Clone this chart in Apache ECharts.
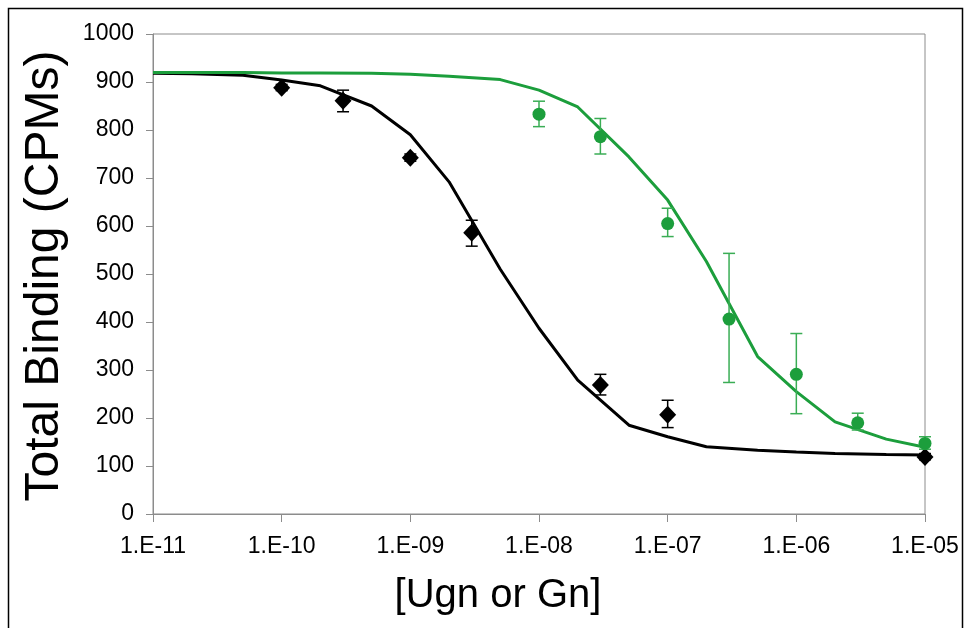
<!DOCTYPE html>
<html>
<head>
<meta charset="utf-8">
<script src="https://cdn.jsdelivr.net/npm/echarts@6/dist/echarts.min.js"></script>
<style>html,body{margin:0;padding:0;background:#fff;}#c{width:966px;height:628px;}</style>
</head>
<body>
<div id="c"></div>
<script>
// ---- data ----
const xTickLabels = ['1.E-11','1.E-10','1.E-09','1.E-08','1.E-07','1.E-06','1.E-05'];
const yTickLabels = ['0','100','200','300','400','500','600','700','800','900','1000'];

const curveConc = [1e-11,2e-11,5e-11,1e-10,2e-10,5e-10,1e-9,2e-9,5e-9,1e-8,2e-8,5e-8,1e-7,2e-7,5e-7,1e-6,2e-6,5e-6,1e-5];
const blackFit  = [918,917,914,904,892,850,790,692,510,387,279,185,161,140,133,129,126,124,123];
const greenFit  = [920,920,920,919,919,918,916,912,905,883,848,744,654,526,328,255,192,156,139];

const blackConc = [1e-10,3e-10,1e-9,3e-9,3e-8,1e-7,1e-5];
const blackMean = [888,861,742,586,269,207,119];
const blackLow  = [882,838,735,558,248,180,113];
const blackHigh = [895,883,750,612,291,237,126];

const greenConc = [1e-8,3e-8,1e-7,3e-7,1e-6,3e-6,1e-5];
const greenMean = [833,786,605,406,291,190,147];
const greenLow  = [807,750,578,274,209,175,135];
const greenHigh = [860,824,637,543,376,210,161];

const xTitle = '[Ugn or Gn]';
const yTitle = 'Total Binding (CPMs)';

// ---- chart ----
const GREEN = '#1c9e3c';
const GREEN_ERR = '#3aad55';
const FONT = '"Liberation Sans", Arial, sans-serif';

function zip(xs, ys) { return xs.map((x, i) => [x, ys[i]]); }
function errData(xs, lo, hi) { return xs.map((x, i) => [x, lo[i], hi[i]]); }
function errRender(color) {
  return function (params, api) {
    const x = api.value(0);
    const p1 = api.coord([x, api.value(1)]);
    const p2 = api.coord([x, api.value(2)]);
    const w = 6;
    const style = { stroke: color, lineWidth: 1.5, fill: null };
    return {
      type: 'group',
      children: [
        { type: 'line', shape: { x1: p1[0], y1: p1[1], x2: p2[0], y2: p2[1] }, style },
        { type: 'line', shape: { x1: p1[0] - w, y1: p1[1], x2: p1[0] + w, y2: p1[1] }, style },
        { type: 'line', shape: { x1: p2[0] - w, y1: p2[1], x2: p2[0] + w, y2: p2[1] }, style }
      ]
    };
  };
}

const chart = echarts.init(document.getElementById('c'), null, { renderer: 'canvas' });
chart.setOption({
  animation: false,
  backgroundColor: '#fff',
  grid: { left: 153, top: 34, right: 41, bottom: 114, show: true, borderColor: '#8c8c8c', borderWidth: 1 },
  xAxis: {
    type: 'log', logBase: 10, min: 1e-11, max: 1e-5,
    splitLine: { show: false },
    minorTick: { show: false },
    axisLine: { lineStyle: { color: '#8c8c8c', width: 1 } },
    axisTick: { inside: false, length: 8, lineStyle: { color: '#8c8c8c' } },
    axisLabel: {
      margin: 21, color: '#000', fontFamily: FONT, fontSize: 23,
      formatter: v => xTickLabels[Math.round(Math.log10(v)) + 11]
    }
  },
  yAxis: {
    type: 'value', min: 0, max: 1000, interval: 100,
    splitLine: { show: false },
    axisLine: { show: true, lineStyle: { color: '#8c8c8c', width: 1 } },
    axisTick: { show: true, inside: false, length: 7, lineStyle: { color: '#8c8c8c' } },
    axisLabel: {
      margin: 19, color: '#000', fontFamily: FONT, fontSize: 23,
      formatter: v => yTickLabels[Math.round(v / 100)]
    }
  },
  graphic: [
    { type: 'rect', shape: { x: 8.5, y: 8.5, width: 954, height: 660 }, style: { fill: null, stroke: '#000', lineWidth: 1.5 }, silent: true },
    { type: 'text', x: 498, y: 596, style: { text: xTitle, font: '40px ' + FONT, fill: '#000', textAlign: 'center', textVerticalAlign: 'middle' } },
    { type: 'text', x: 45, y: 276, rotation: Math.PI / 2, style: { text: yTitle, font: '48px ' + FONT, fill: '#000', textAlign: 'center', textVerticalAlign: 'middle' } }
  ],
  series: [
    { type: 'line', data: zip(curveConc, blackFit), showSymbol: false, symbol: 'none', smooth: false,
      lineStyle: { color: '#000', width: 3 }, z: 2 },
    { type: 'custom', data: errData(blackConc, blackLow, blackHigh), renderItem: errRender('#000'),
      encode: { x: 0, y: [1, 2] }, z: 3 },
    { type: 'scatter', data: zip(blackConc, blackMean), symbol: 'diamond', symbolSize: [17, 18],
      itemStyle: { color: '#000', opacity: 1 }, z: 4 },
    { type: 'line', data: zip(curveConc, greenFit), showSymbol: false, symbol: 'none', smooth: false,
      lineStyle: { color: GREEN, width: 3 }, z: 5 },
    { type: 'custom', data: errData(greenConc, greenLow, greenHigh), renderItem: errRender(GREEN_ERR),
      encode: { x: 0, y: [1, 2] }, z: 6 },
    { type: 'scatter', data: zip(greenConc, greenMean), symbol: 'circle', symbolSize: 13,
      itemStyle: { color: GREEN, opacity: 1 }, z: 7 }
  ]
});
</script>
</body>
</html>
